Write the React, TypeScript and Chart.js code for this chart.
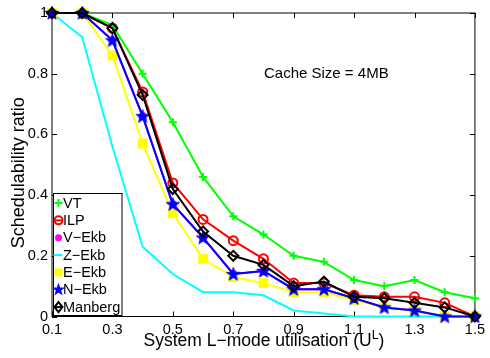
import React, { useEffect, useRef } from "react";
import { Chart, registerables } from "chart.js";

Chart.register(...registerables);

const FONT = '"Liberation Sans", Arial, Helvetica, sans-serif';

// System L-mode utilisation values on the x axis
const utilisation = [0.1, 0.2, 0.3, 0.4, 0.5, 0.6, 0.7, 0.8, 0.9, 1.0, 1.1, 1.2, 1.3, 1.4, 1.5];

// Schedulability ratio per approach
const vt = [1, 1, 0.96, 0.8, 0.64, 0.46, 0.33, 0.27, 0.2, 0.18, 0.12, 0.1, 0.12, 0.08, 0.06];
const ilp = [1, 1, 0.95, 0.74, 0.44, 0.32, 0.25, 0.19, 0.11, 0.11, 0.07, 0.065, 0.065, 0.045, 0];
const vEkb = [1, 1, 0.91, 0.66, 0.37, 0.26, 0.14, 0.15, 0.09, 0.09, 0.06, 0.03, 0.02, 0, 0];
const zEkb = [1, 0.92, 0.56, 0.23, 0.14, 0.08, 0.08, 0.07, 0.02, 0.01, 0, 0, 0, 0, 0];
const eEkb = [1, 1, 0.86, 0.57, 0.34, 0.19, 0.13, 0.11, 0.08, 0.08, 0.055, 0.03, 0.02, 0, 0];
const nEkb = [1, 1, 0.91, 0.66, 0.37, 0.26, 0.14, 0.15, 0.09, 0.09, 0.06, 0.03, 0.02, 0, 0];
const manberg = [1, 1, 0.95, 0.73, 0.42, 0.28, 0.2, 0.17, 0.1, 0.115, 0.065, 0.06, 0.045, 0.03, 0];

const xTicks = [0.1, 0.3, 0.5, 0.7, 0.9, 1.1, 1.3, 1.5];
const yTicks = [0, 0.2, 0.4, 0.6, 0.8, 1];

const seriesLabels = ["VT", "ILP", "V\u2212Ekb", "Z\u2212Ekb", "E\u2212Ekb", "N\u2212Ekb", "Manberg"];
const seriesData = [vt, ilp, vEkb, zEkb, eEkb, nEkb, manberg];
const seriesColors = ["#00ff00", "#ff0000", "#ff00ff", "#00ffff", "#ffff00", "#0000ff", "#000000"];
const seriesMarkers = ["cross", "circle", "dot", "none", "square", "star", "diamond"];

const annotationText = "Cache Size = 4MB";

function starPath(ctx: CanvasRenderingContext2D, cx: number, cy: number, R: number) {
  const r = R * 0.4;
  ctx.beginPath();
  for (let i = 0; i < 10; i++) {
    const rad = i % 2 === 0 ? R : r;
    const a = -Math.PI / 2 + (i * Math.PI) / 5;
    const px = cx + rad * Math.cos(a);
    const py = cy + rad * Math.sin(a);
    if (i === 0) ctx.moveTo(px, py);
    else ctx.lineTo(px, py);
  }
  ctx.closePath();
}

function makeStarImage(color: string, R: number) {
  const size = Math.ceil(R * 2 + 2);
  const c = document.createElement("canvas");
  c.width = size;
  c.height = size;
  const ctx = c.getContext("2d")!;
  starPath(ctx, size / 2, size / 2 + 0.5, R);
  ctx.fillStyle = color;
  ctx.fill();
  ctx.strokeStyle = color;
  ctx.lineWidth = 1;
  ctx.stroke();
  return c;
}

function drawMarker(ctx: CanvasRenderingContext2D, kind: string, color: string, x: number, y: number) {
  ctx.save();
  ctx.strokeStyle = color;
  ctx.fillStyle = color;
  ctx.lineWidth = 2;
  if (kind === "cross") {
    ctx.beginPath();
    ctx.moveTo(x - 4, y);
    ctx.lineTo(x + 4, y);
    ctx.moveTo(x, y - 4);
    ctx.lineTo(x, y + 4);
    ctx.stroke();
  } else if (kind === "circle") {
    ctx.beginPath();
    ctx.arc(x, y, 4, 0, Math.PI * 2);
    ctx.stroke();
    ctx.beginPath();
    ctx.moveTo(x - 4, y);
    ctx.lineTo(x + 4, y);
    ctx.stroke();
  } else if (kind === "dot") {
    ctx.beginPath();
    ctx.arc(x, y, 3.5, 0, Math.PI * 2);
    ctx.fill();
  } else if (kind === "none") {
    ctx.beginPath();
    ctx.moveTo(x - 5, y);
    ctx.lineTo(x + 4, y);
    ctx.stroke();
  } else if (kind === "square") {
    ctx.fillRect(x - 4, y - 4, 8, 8);
  } else if (kind === "star") {
    starPath(ctx, x, y, 7);
    ctx.fill();
  } else if (kind === "diamond") {
    ctx.beginPath();
    ctx.moveTo(x, y - 5);
    ctx.lineTo(x + 4, y);
    ctx.lineTo(x, y + 5);
    ctx.lineTo(x - 4, y);
    ctx.closePath();
    ctx.stroke();
    ctx.beginPath();
    ctx.moveTo(x - 4, y);
    ctx.lineTo(x + 4, y);
    ctx.stroke();
  }
  ctx.restore();
}

const framePlugin = {
  id: "frame",
  beforeDatasetsDraw(chart: any) {
    const { ctx, chartArea } = chart;
    const { left, right, top, bottom } = chartArea;
    const xs = chart.scales.x;
    const ys = chart.scales.y;
    ctx.save();
    ctx.strokeStyle = "#000";
    ctx.lineWidth = 1;
    ctx.strokeRect(left, top, right - left, bottom - top);
    ctx.beginPath();
    const tl = 5;
    for (const v of xTicks) {
      const px = Math.round(xs.getPixelForValue(v)) + 0.5;
      ctx.moveTo(px, bottom);
      ctx.lineTo(px, bottom - tl);
      ctx.moveTo(px, top);
      ctx.lineTo(px, top + tl);
    }
    for (const v of yTicks) {
      const py = Math.round(ys.getPixelForValue(v)) + 0.5;
      ctx.moveTo(left, py);
      ctx.lineTo(left + tl, py);
      ctx.moveTo(right, py);
      ctx.lineTo(right - tl, py);
    }
    ctx.stroke();
    ctx.restore();
  },
  afterDraw(chart: any) {
    const { ctx, chartArea } = chart;
    ctx.save();
    ctx.fillStyle = "#000";

    // y axis title
    ctx.save();
    ctx.translate(19.5, (chartArea.top + chartArea.bottom) / 2 + 8);
    ctx.rotate(-Math.PI / 2);
    ctx.font = `18px ${FONT}`;
    ctx.textAlign = "center";
    ctx.textBaseline = "middle";
    ctx.fillText("Schedulability ratio", 0, 0);
    ctx.restore();

    // x axis title with superscript
    const main = "System L\u2212mode utilisation (U";
    const sup = "L";
    const tail = ")";
    ctx.font = `17.5px ${FONT}`;
    const wMain = ctx.measureText(main).width;
    const wTail = ctx.measureText(tail).width;
    ctx.font = `12.5px ${FONT}`;
    const wSup = ctx.measureText(sup).width;
    const total = wMain + wSup + wTail;
    let x0 = 264 - total / 2;
    const base = 346;
    ctx.textAlign = "left";
    ctx.textBaseline = "alphabetic";
    ctx.font = `17.5px ${FONT}`;
    ctx.fillText(main, x0, base);
    ctx.font = `12.5px ${FONT}`;
    ctx.fillText(sup, x0 + wMain, base - 7);
    ctx.font = `17.5px ${FONT}`;
    ctx.fillText(tail, x0 + wMain + wSup, base);

    // annotation
    ctx.font = `15px ${FONT}`;
    ctx.textBaseline = "middle";
    ctx.fillText(annotationText, 264, 74);

    // legend
    const lx = 53.5;
    const ly = 193.5;
    const lw = 68.5;
    const lh = 122;
    ctx.fillStyle = "#fff";
    ctx.fillRect(lx, ly, lw, lh);
    ctx.strokeStyle = "#000";
    ctx.lineWidth = 1;
    ctx.strokeRect(lx, ly, lw, lh);
    ctx.font = `14.5px ${FONT}`;
    ctx.textBaseline = "middle";
    ctx.textAlign = "left";
    seriesLabels.forEach((label, i) => {
      const y = 203 + i * 17.35;
      drawMarker(ctx, seriesMarkers[i], seriesColors[i], 58.5, y);
      ctx.fillStyle = "#000";
      ctx.fillText(label, 63, y + 0.5);
    });
    ctx.restore();
  },
};

export default function App() {
  const canvasRef = useRef<HTMLCanvasElement | null>(null);

  useEffect(() => {
    document.body.style.margin = "0";
    const canvas = canvasRef.current;
    if (!canvas) return;

    const starImg = makeStarImage("#0000ff", 7);

    const datasets = seriesLabels.map((label, i) => {
      const kind = seriesMarkers[i];
      const color = seriesColors[i];
      const base: any = {
        label,
        data: utilisation.map((x, j) => ({ x, y: seriesData[i][j] })),
        borderColor: color,
        backgroundColor: color,
        borderWidth: 2,
        tension: 0,
        clip: false,
        order: seriesLabels.length - 1 - i,
        pointBorderColor: color,
        pointBorderWidth: 2,
        pointHoverRadius: 0,
      };
      if (kind === "cross") {
        base.pointStyle = "cross";
        base.pointRadius = 4;
      } else if (kind === "circle") {
        base.pointStyle = "circle";
        base.pointRadius = 4.5;
        base.pointBackgroundColor = "rgba(0,0,0,0)";
      } else if (kind === "dot") {
        base.pointStyle = "circle";
        base.pointRadius = 3;
        base.pointBackgroundColor = color;
      } else if (kind === "none") {
        base.pointRadius = 0;
      } else if (kind === "square") {
        base.pointStyle = "rect";
        base.pointRadius = 5.5;
        base.pointBackgroundColor = color;
      } else if (kind === "star") {
        base.pointStyle = starImg;
        base.pointRadius = 7;
      } else if (kind === "diamond") {
        base.pointStyle = "rectRot";
        base.pointRadius = 5;
        base.pointBackgroundColor = "rgba(0,0,0,0)";
      }
      return base;
    });

    const chart = new Chart(canvas, {
      type: "line",
      data: { datasets },
      options: {
        responsive: false,
        animation: false,
        events: [],
        layout: { padding: { top: 13, right: 12, left: 0, bottom: 0 } },
        plugins: {
          legend: { display: false },
          tooltip: { enabled: false },
        },
        scales: {
          x: {
            type: "linear",
            min: 0.1,
            max: 1.5,
            afterBuildTicks: (s: any) => {
              s.ticks = xTicks.map((v) => ({ value: v }));
            },
            afterFit: (s: any) => {
              s.height = 41.5;
            },
            grid: { display: false, drawTicks: false },
            border: { display: false },
            ticks: {
              autoSkip: false,
              maxRotation: 0,
              padding: 5,
              color: "#000",
              font: { family: FONT, size: 14.5 },
              callback: (v: any) => Number(v).toFixed(1),
            },
          },
          y: {
            type: "linear",
            min: 0,
            max: 1,
            afterBuildTicks: (s: any) => {
              s.ticks = yTicks.map((v) => ({ value: v }));
            },
            afterFit: (s: any) => {
              s.width = 52;
            },
            grid: { display: false, drawTicks: false },
            border: { display: false },
            ticks: {
              padding: 4,
              color: "#000",
              font: { family: FONT, size: 14.5 },
              callback: (v: any) => String(Math.round(Number(v) * 10) / 10),
            },
          },
        },
      },
      plugins: [framePlugin],
    });

    return () => {
      chart.destroy();
    };
  }, []);

  return (
    <div style={{ width: 490, height: 358 }}>
      <canvas ref={canvasRef} width={490} height={358} style={{ display: "block" }} />
    </div>
  );
}
